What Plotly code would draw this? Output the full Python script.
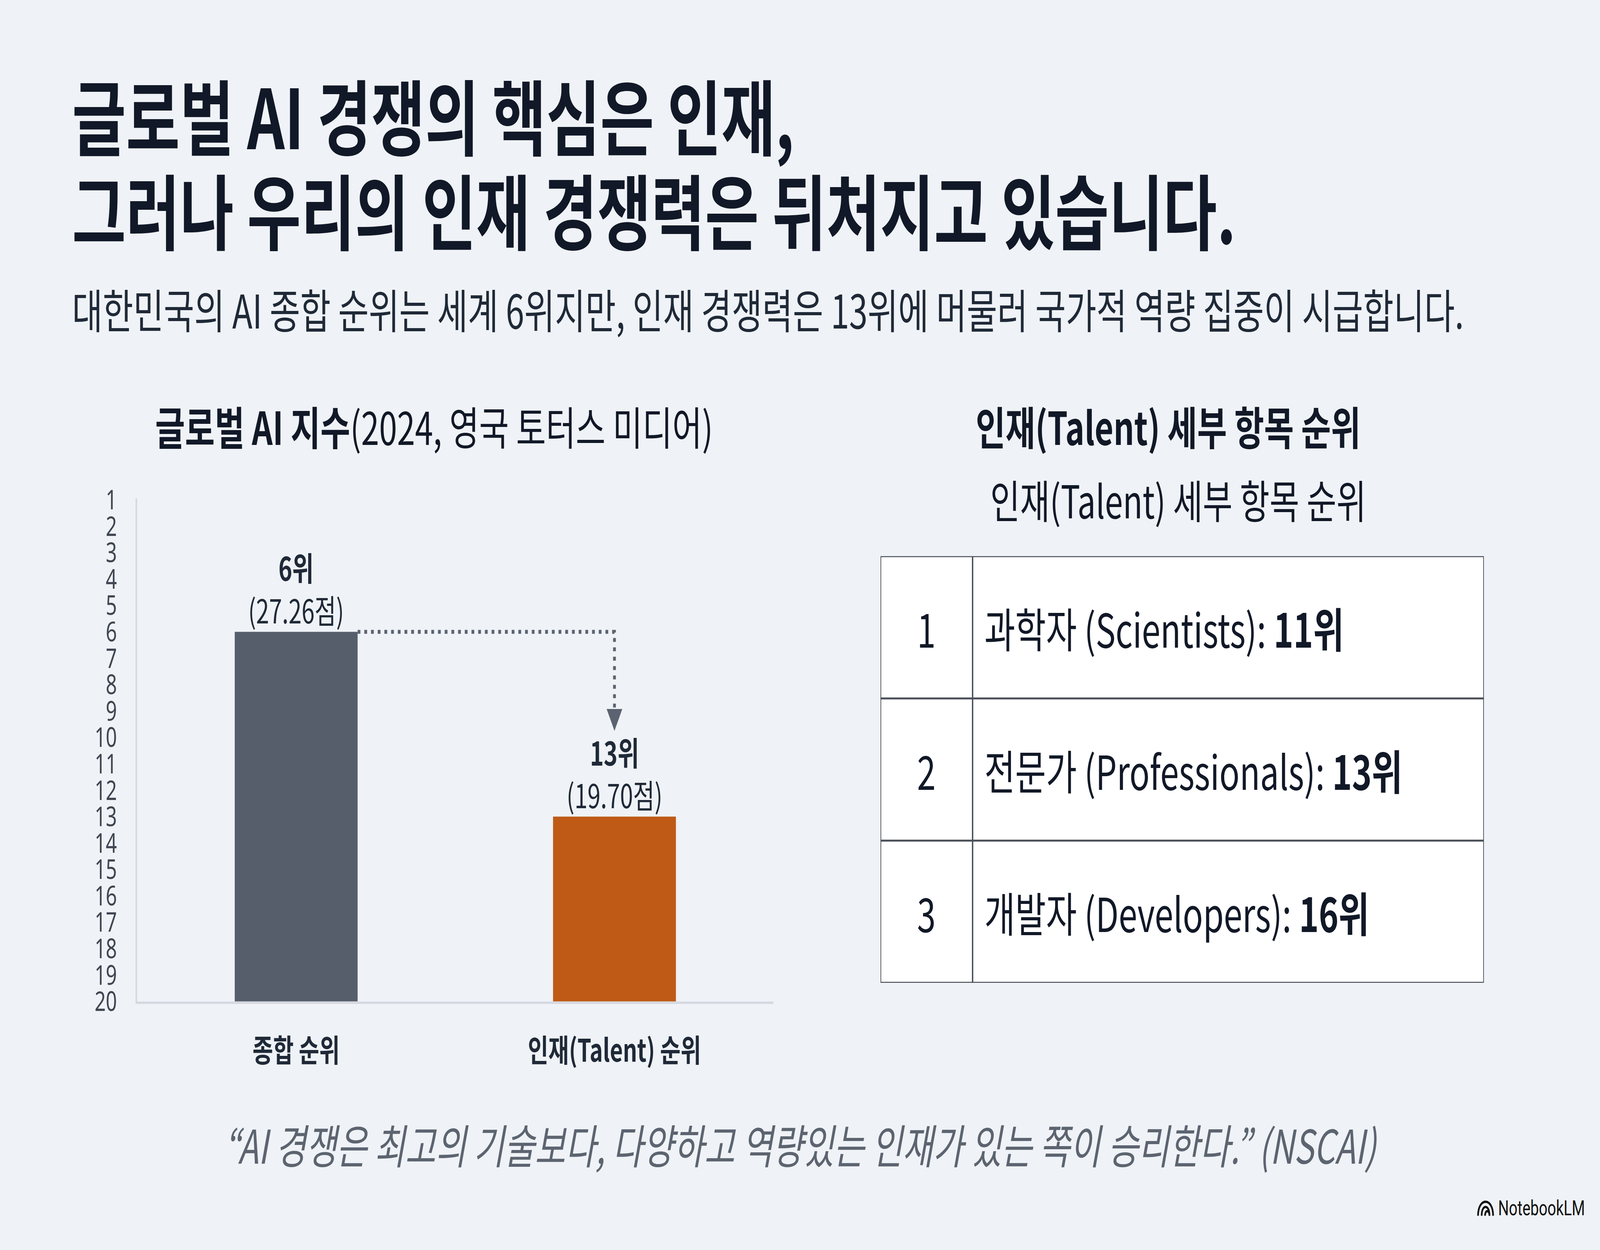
import plotly.graph_objects as go

# ---------------- data ----------------
categories = ["종합 순위", "인재(Talent) 순위"]
ranks = [6, 13]
scores = [27.26, 19.70]
rank_ticks = list(range(1, 21))
detail_items = ["과학자 (Scientists)", "전문가 (Professionals)", "개발자 (Developers)"]
detail_ranks = [11, 13, 16]
bar_colors = ["#565E6C", "#BE5A16"]

title_lines = ["글로벌 AI 경쟁의 핵심은 인재,", "그러나 우리의 인재 경쟁력은 뒤처지고 있습니다."]
subtitle = "대한민국의 AI 종합 순위는 세계 6위지만, 인재 경쟁력은 13위에 머물러 국가적 역량 집중이 시급합니다."
chart_title_bold = "글로벌 AI 지수"
chart_title_rest = "(2024, 영국 토터스 미디어)"
table_title = "인재(Talent) 세부 항목 순위"
quote = "“AI 경쟁은 최고의 기술보다, 다양하고 역량있는 인재가 있는 쪽이 승리한다.” (NSCAI)"

# ---------------- layout constants ----------------
W, H = 5733, 3200
FONT = "Noto Sans CJK KR"
BG = "#EFF2F6"
DARK = "#111827"
TEXT = "#1F2937"
base_rank = max(rank_ticks)
bar_width = 0.386
arrow_tip = 9.75
arrow_stem_end = 9.2
col1_frac = 0.1526


def px(x):
    return x / W


def py(y):
    return 1 - y / H


fig = go.Figure()

# bars
fig.add_trace(go.Bar(
    x=[0, 1], y=[r - base_rank for r in ranks], base=base_rank,
    width=bar_width, marker=dict(color=bar_colors, line=dict(width=0)),
    hoverinfo="skip", showlegend=False,
))

# dotted connector
fig.add_trace(go.Scatter(
    x=[0 + bar_width / 2, 1, 1], y=[ranks[0], ranks[0], arrow_stem_end],
    mode="lines", line=dict(color="#5B6370", width=10, dash="10px,14px"),
    hoverinfo="skip", showlegend=False,
))
fig.add_trace(go.Scatter(
    x=[1], y=[arrow_tip], mode="markers",
    marker=dict(symbol="arrow-down", size=56, color="#5B6370", line=dict(width=0)),
    hoverinfo="skip", showlegend=False,
))

annotations = []
# bar labels
for i, (r, s) in enumerate(zip(ranks, scores)):
    annotations.append(dict(
        x=i, y=r, xref="x", yref="y", yanchor="bottom", xanchor="center",
        yshift=-4, showarrow=False,
        text=f"<b>{r}위</b><br>({s:.2f}점)",
        font=dict(family=FONT, size=84, color=TEXT),
    ))

# table (on its own hidden axes)
n_rows = len(detail_items)
shapes = [dict(type="rect", xref="x2", yref="y2", x0=0, x1=1, y0=0, y1=n_rows,
               fillcolor="white", line=dict(color="#4A4F57", width=5), layer="below")]
for i in range(1, n_rows):
    shapes.append(dict(type="line", xref="x2", yref="y2", x0=0, x1=1, y0=i, y1=i,
                       line=dict(color="#4A4F57", width=5)))
shapes.append(dict(type="line", xref="x2", yref="y2", x0=col1_frac, x1=col1_frac,
                   y0=0, y1=n_rows, line=dict(color="#4A4F57", width=5)))
for i, (item, rk) in enumerate(zip(detail_items, detail_ranks)):
    annotations.append(dict(
        x=col1_frac / 2, y=i + 0.5, xref="x2", yref="y2", showarrow=False,
        xanchor="center", yanchor="middle", text=str(i + 1),
        font=dict(family=FONT, size=120, color=DARK),
    ))
    annotations.append(dict(
        x=col1_frac, y=i + 0.5, xref="x2", yref="y2", showarrow=False,
        xanchor="left", yanchor="middle", xshift=40,
        text=f"{item}: <b>{rk}위</b>",
        font=dict(family=FONT, size=120, color=DARK),
    ))

# titles & texts
annotations += [
    dict(x=px(256), y=py(250), xref="paper", yref="paper", xanchor="left", yanchor="middle",
         showarrow=False, text=f"<b>{title_lines[0]}</b>",
         font=dict(family=FONT, size=210, color=DARK)),
    dict(x=px(256), y=py(500), xref="paper", yref="paper", xanchor="left", yanchor="middle",
         showarrow=False, text=f"<b>{title_lines[1]}</b>",
         font=dict(family=FONT, size=210, color=DARK)),
    dict(x=px(256), y=py(764), xref="paper", yref="paper", xanchor="left", yanchor="middle",
         showarrow=False, text=subtitle,
         font=dict(family=FONT, size=119, color=TEXT)),
    dict(x=px(1555), y=py(1072), xref="paper", yref="paper", xanchor="center", yanchor="middle",
         showarrow=False, text=f"<b>{chart_title_bold}</b>{chart_title_rest}",
         font=dict(family=FONT, size=116, color=DARK)),
    dict(x=px(4186), y=py(1072), xref="paper", yref="paper", xanchor="center", yanchor="middle",
         showarrow=False, text=f"<b>{table_title}</b>",
         font=dict(family=FONT, size=116, color=DARK)),
    dict(x=px(4221), y=py(1266), xref="paper", yref="paper", xanchor="center", yanchor="middle",
         showarrow=False, text=table_title,
         font=dict(family=FONT, size=116, color=DARK)),
    dict(x=px(2870), y=py(2966), xref="paper", yref="paper", xanchor="center", yanchor="middle",
         showarrow=False, text=f"<i>{quote}</i>",
         font=dict(family=FONT, size=119, color="#5C6470")),
    dict(x=px(5366), y=py(3137), xref="paper", yref="paper", xanchor="left", yanchor="middle",
         showarrow=False, text="NotebookLM",
         font=dict(family="Roboto", size=54, color="#111111")),
]

# NotebookLM icon
def pth(pts):
    (x0, y0), (cx1, cy1), (cx2, cy2), (x1, y1) = pts
    return (f"M {px(x0)},{py(y0)} C {px(cx1)},{py(cy1)} {px(cx2)},{py(cy2)} {px(x1)},{py(y1)}")

for pts in [((5296, 3157), (5296, 3108), (5350, 3108), (5350, 3157)),
            ((5309, 3157), (5309, 3126), (5337, 3126), (5337, 3157)),
            ((5321, 3157), (5321, 3141), (5337, 3141), (5337, 3157))]:
    shapes.append(dict(type="path", xref="paper", yref="paper", path=pth(pts),
                       line=dict(color="#111111", width=6)))

fig.update_layout(
    width=W, height=H,
    margin=dict(l=0, r=0, t=0, b=0),
    paper_bgcolor=BG, plot_bgcolor="rgba(0,0,0,0)",
    showlegend=False,
    annotations=annotations,
    shapes=shapes,
    xaxis=dict(
        domain=[px(491), px(2772)], range=[-0.5, 1.5],
        tickvals=[0, 1], ticktext=[f"<b>{c}</b>" for c in categories],
        tickfont=dict(family=FONT, size=80, color=TEXT),
        showline=True, linecolor="#D5D9E0", linewidth=6,
        showgrid=False, zeroline=False, ticks="", ticklabelstandoff=52,
        fixedrange=True,
    ),
    yaxis=dict(
        domain=[py(2592), py(1266)], range=[base_rank, 0.95],
        tickvals=rank_ticks, ticktext=[str(t) for t in rank_ticks],
        tickfont=dict(family="Noto Sans", size=70, color="#3F4652"),
        showline=True, linecolor="#D5D9E0", linewidth=6,
        showgrid=False, zeroline=False, ticks="", ticklabelstandoff=52,
        fixedrange=True,
    ),
    xaxis2=dict(domain=[px(3155), px(5317)], range=[0, 1], visible=False,
                anchor="y2", fixedrange=True),
    yaxis2=dict(domain=[py(2543), py(1418)], range=[n_rows, 0], visible=False,
                anchor="x2", fixedrange=True),
)

# fit the 5733x3200 figure into whatever viewport the browser really provides
fit_js = (
    "document.documentElement.style.overflow='hidden';"
    "document.body.style.margin='0';document.body.style.overflow='hidden';"
    "var gd=document.getElementById('{plot_id}');"
    "var sx=window.innerWidth/%d, sy=window.innerHeight/%d;"
    "gd.style.transformOrigin='0 0';"
    "gd.style.transform='scale('+sx+','+sy+')';" % (W, H)
)
fig.write_html("out.html", post_script=fit_js, config={"displayModeBar": False})
